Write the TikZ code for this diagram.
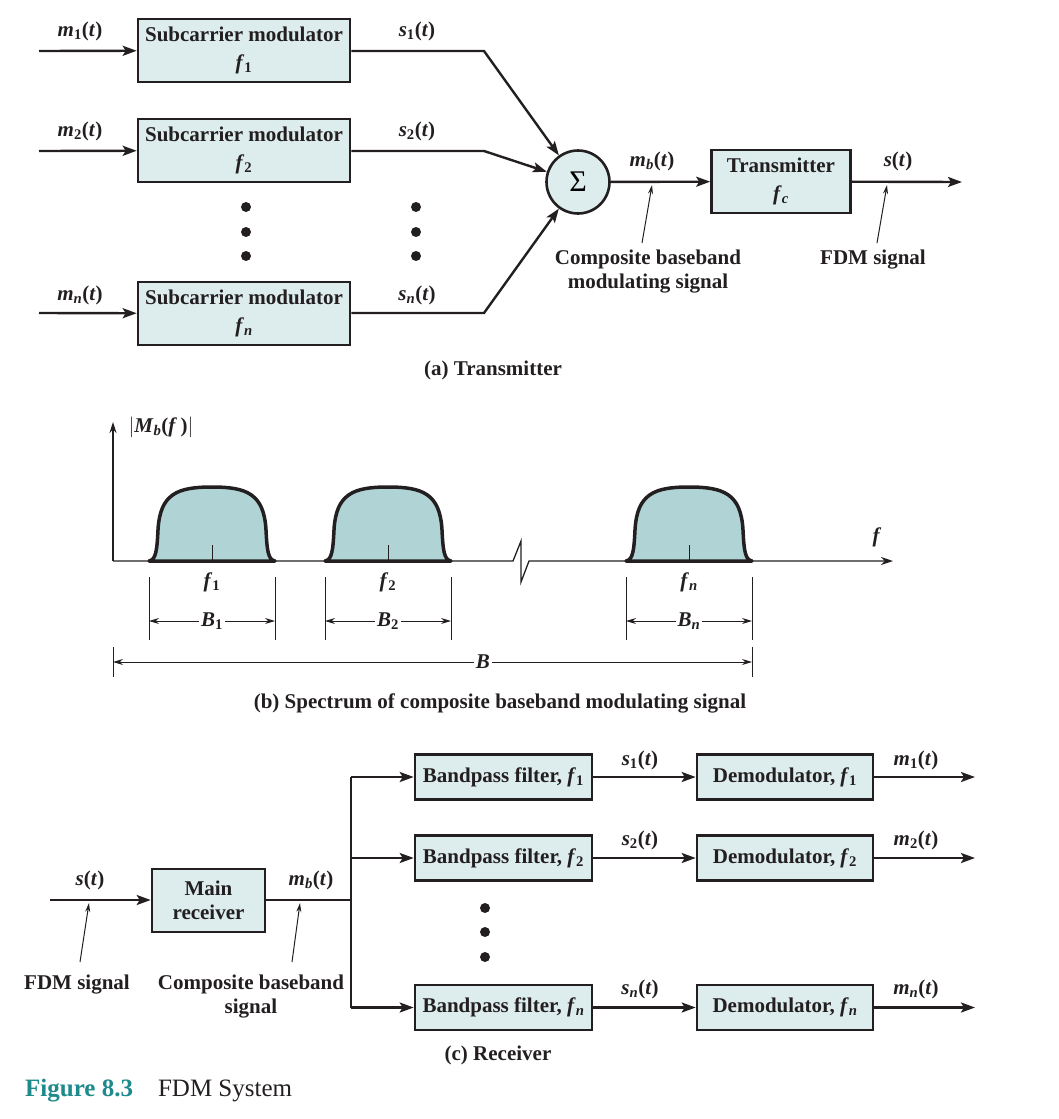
\documentclass[tikz,border=0pt]{standalone}
\usepackage{fontspec}
\setmainfont{Liberation Serif}
\usepackage{tikz}
\usetikzlibrary{arrows.meta}
\definecolor{box fill}{HTML}{DDECEC}
\definecolor{hump fill}{HTML}{B0D4D6}
\definecolor{fig teal}{HTML}{1E8A8C}
\definecolor{ink}{HTML}{231F20}
\newcommand{\sg}[2]{\textit{#1}\textsubscript{#2}(\textit{t})}
\newcommand{\fq}[1]{\textit{f}\textsubscript{#1}}
% one band of the spectrum, centred at #1
\newcommand{\hump}[1]{%
	\begin{scope}[shift={(#1,561)}]
		\filldraw[fill=hump fill, draw=ink, line width=3.5pt, line join=round]
			(-63,0) .. controls (-56,-1) and (-55,-11) .. (-54,-31)
			.. controls (-52,-67) and (-35,-74) .. (0,-74)
			.. controls (35,-74) and (52,-67) .. (54,-31)
			.. controls (55,-11) and (56,-1) .. (63,0) -- cycle;
		\draw[ink, line width=1pt] (0,-1) -- (0,-16);
	\end{scope}}
\tikzset{
	block/.style={draw=ink, line width=2.6pt, fill=box fill, inner sep=0pt, align=center,
		text=ink, font=\fontsize{21}{28}\selectfont\bfseries},
	lbl/.style={inner sep=0pt, text=ink, align=center, font=\fontsize{21}{24}\selectfont\bfseries},
	sigline/.style={draw=ink, line width=2.4pt},
	sigarrow/.style={sigline, -{Stealth[length=14pt,width=10pt,inset=3pt]}},
	pointer/.style={draw=ink, line width=1pt, -{Stealth[length=9pt,width=5pt]}},
	dimline/.style={draw=ink, line width=1pt, {Stealth[length=10pt,width=6pt]}-{Stealth[length=10pt,width=6pt]}},
	extline/.style={draw=ink, line width=1pt},
	dot/.style={circle, fill=ink, inner sep=0pt, minimum size=10pt},
}

\begin{document}
\begin{tikzpicture}[x=1pt, y=-1pt]
	\useasboundingbox (0,0) rectangle (1059,1119);
	% part for (a) transmitter
	\begin{scope}
		\node[block, minimum width=212pt, minimum height=63pt] (mod1) at (244,50.5) {Subcarrier modulator\\\fq{1}};
		\node[block, minimum width=212pt, minimum height=63pt] (mod2) at (244,150.5) {Subcarrier modulator\\\fq{2}};
		\node[block, minimum width=212pt, minimum height=63pt] (modn) at (244,313.5) {Subcarrier modulator\\\fq{\textit{n}}};
		\node[draw=ink, line width=2.6pt, fill=box fill, circle, minimum size=63pt, inner sep=0pt,
			font=\fontsize{30}{32}\selectfont] (sum) at (578,182) {Σ};
		\node[block, minimum width=139pt, minimum height=63pt] (tx) at (781,181.5) {Transmitter\\\textit{f}\textsubscript{\textit{c}}};
		\coordinate (in1) at (39,51);
		\coordinate (in2) at (39,151);
		\coordinate (inn) at (39,313);
		\coordinate (k1) at (484,51);
		\coordinate (k2) at (484,151);
		\coordinate (kn) at (484,313);
		\coordinate (txout) at (962,182);
		\draw[sigarrow] (in1) -- (mod1);
		\draw[sigarrow] (in2) -- (mod2);
		\draw[sigarrow] (inn) -- (modn);
		\draw[sigarrow] (mod1.east |- k1) -- (k1) -- (sum);
		\draw[sigarrow] (mod2.east |- k2) -- (k2) -- (sum);
		\draw[sigarrow] (modn.east |- kn) -- (kn) -- (sum);
		\draw[sigarrow] (sum) -- (tx);
		\draw[sigarrow] (tx) -- (txout);
		\node[lbl] (lm1) at (80,31) {\sg{m}{1}};
		\node[lbl] (lm2) at (80,131) {\sg{m}{2}};
		\node[lbl] (lmn) at (80,295) {\sg{m}{\textit{n}}};
		\node[lbl] (ls1) at (417,31) {\sg{s}{1}};
		\node[lbl] (ls2) at (417,131) {\sg{s}{2}};
		\node[lbl] (lsn) at (417,295) {\sg{s}{\textit{n}}};
		\node[lbl] (lmb) at (652,161) {\sg{m}{\textit{b}}};
		\node[lbl] (lst) at (898,161) {\textit{s}(\textit{t})};
		\foreach \y [count=\i] in {207,232,256} {
			\node[dot] (dl\i) at (246,\y) {};
			\node[dot] (dr\i) at (416,\y) {};
		}
		% pointers to the signals
		\coordinate (cbtail) at (642,243);
		\coordinate (cbhead) at (652,185);
		\coordinate (fdmtail) at (877,243);
		\coordinate (fdmhead) at (887,185);
		\draw[pointer] (cbtail) -- (cbhead);
		\draw[pointer] (fdmtail) -- (fdmhead);
		\node[lbl] (cbtext) at (648,272) {Composite baseband\\modulating signal};
		\node[lbl] (fdmtext) at (873,260) {FDM signal};
		\node[lbl] (capa) at (493,370) {(a) Transmitter};
	\end{scope}
	% part for (b) spectrum
	\begin{scope}
		\coordinate (orig) at (113,561);
		\coordinate (ytop) at (113,422);
		\coordinate (xend) at (893,561);
		\draw[ink, line width=1.3pt, -{Stealth[length=11pt,width=7pt]}] (orig) -- (ytop);
		\draw[ink, line width=1.3pt, -{Stealth[length=12pt,width=8pt]}] (orig) -- (513,561) -- (521,541)
			-- (521,582) -- (529,561) -- (xend);
		\hump{212}
		\hump{388}
		\hump{689}
		\node[lbl] (lmag) at (161,427) {$|$\textit{M}\textsubscript{\textit{b}}(\textit{f}\,)$|$};
		\node[lbl] (lf) at (877,537) {\textit{f}};
		\node[lbl] (lf1) at (212,582) {\fq{1}};
		\node[lbl] (lf2) at (388,582) {\fq{2}};
		\node[lbl] (lfn) at (689,582) {\fq{\textit{n}}};
		% band widths
		\foreach \x in {149,275,325,451,626,752} {
			\draw[extline] (\x,577) -- (\x,640);
		}
		\draw[extline] (113,647) -- (113,677);
		\draw[extline] (752,647) -- (752,677);
		\coordinate (b1l) at (149,621);
		\coordinate (b1r) at (275,621);
		\coordinate (b2l) at (325,621);
		\coordinate (b2r) at (451,621);
		\coordinate (bnl) at (626,621);
		\coordinate (bnr) at (752,621);
		\coordinate (bl) at (113,662);
		\coordinate (br) at (752,662);
		\draw[dimline] (b1l) -- node[lbl, fill=white, inner xsep=2pt] (lb1) {\textit{B}\textsubscript{1}} (b1r);
		\draw[dimline] (b2l) -- node[lbl, fill=white, inner xsep=2pt] (lb2) {\textit{B}\textsubscript{2}} (b2r);
		\draw[dimline] (bnl) -- node[lbl, fill=white, inner xsep=2pt] (lbn) {\textit{B}\textsubscript{\textit{n}}} (bnr);
		\draw[dimline] (bl) -- node[lbl, fill=white, inner xsep=2pt, pos=0.579] (lb) {\textit{B}} (br);
		\node[lbl] (capb) at (500,703) {(b) Spectrum of composite baseband modulating signal};
	\end{scope}
	% part for (c) receiver
	\begin{scope}
		\node[block, minimum width=113pt, minimum height=63pt, font=\fontsize{21}{24}\selectfont\bfseries] (rx) at (208.5,900.5) {Main\\receiver};
		\foreach \y/\s [count=\i] in {777/1,858/2,1007.5/\textit{n}} {
			\node[block, minimum width=177pt, minimum height=45pt] (bp\i) at (503.5,\y) {Bandpass filter, \fq{\s}};
			\node[block, minimum width=176pt, minimum height=45pt] (dm\i) at (785,\y) {Demodulator, \fq{\s}};
			\coordinate (br\i) at (351,\y);
			\coordinate (out\i) at (975,\y);
			\draw[sigarrow] (br\i) -- (bp\i);
			\draw[sigarrow] (bp\i) -- (dm\i);
			\draw[sigarrow] (dm\i) -- (out\i);
		}
		\node[lbl] (rs1) at (640,760) {\sg{s}{1}};
		\node[lbl] (rs2) at (640,840) {\sg{s}{2}};
		\node[lbl] (rsn) at (640,989) {\sg{s}{\textit{n}}};
		\node[lbl] (rm1) at (916,760) {\sg{m}{1}};
		\node[lbl] (rm2) at (916,840) {\sg{m}{2}};
		\node[lbl] (rmn) at (916,989) {\sg{m}{\textit{n}}};
		\coordinate (rin) at (50,900);
		\coordinate (split) at (351,900);
		\draw[sigarrow] (rin) -- (rx.west |- rin);
		\draw[sigline] (rx.east |- split) -- (split);
		\draw[sigline] (br1) -- (br3);
		\node[lbl] (rst) at (90,880) {\textit{s}(\textit{t})};
		\node[lbl] (rmb) at (311,880) {\sg{m}{\textit{b}}};
		\foreach \y [count=\i] in {908,932,957} {
			\node[dot] (rd\i) at (485,\y) {};
		}
		\coordinate (rfdmtail) at (80,962);
		\coordinate (rfdmhead) at (89,903);
		\coordinate (rcbtail) at (292,962);
		\coordinate (rcbhead) at (300,903);
		\draw[pointer] (rfdmtail) -- (rfdmhead);
		\draw[pointer] (rcbtail) -- (rcbhead);
		\node[lbl] (rfdmtext) at (77,985) {FDM signal};
		\node[lbl] (rcbtext) at (251,996.5) {Composite baseband\\signal};
		\node[lbl] (capc) at (498,1055) {(c) Receiver};
	\end{scope}
	% figure caption
	\node[anchor=west, inner sep=0pt, text=ink, font=\fontsize{25}{28}\selectfont] (figcap) at (25,1091)
		{{\color{fig teal}\bfseries Figure 8.3}\hspace{25pt}FDM System};
\end{tikzpicture}
\end{document}
